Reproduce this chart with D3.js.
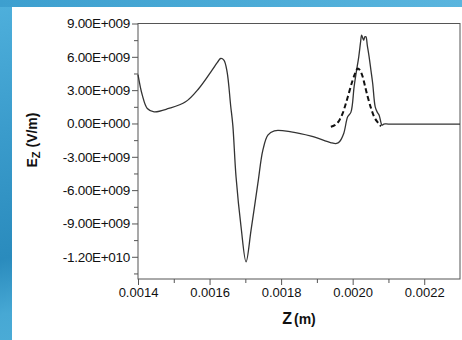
<!DOCTYPE html>
<html>
<head>
<meta charset="utf-8">
<script src="https://cdn.jsdelivr.net/npm/d3@7"></script>
<style>
  html, body { margin: 0; padding: 0; background: #fff; }
  svg { display: block; }
  text { font-family: "Liberation Sans", Arial, sans-serif; fill: #111; }
</style>
</head>
<body>
<div id="chart"></div>
<script>
// Axial electric field E_z along z: full field (solid) and pulse (dashed)
const solidZ = [0.001400, 0.001412, 0.001426, 0.001445, 0.001486, 0.001533, 0.001570, 0.001607, 0.001622, 0.001631, 0.001640, 0.001649, 0.001659, 0.001665, 0.001674, 0.001688, 0.001702, 0.001716, 0.001735, 0.001749, 0.001763, 0.001781, 0.001828, 0.001884, 0.001940, 0.001955, 0.001963, 0.001975, 0.001986, 0.001995, 0.002004, 0.002010, 0.002017, 0.002022, 0.002025, 0.002028, 0.002031, 0.002034, 0.002037, 0.002041, 0.002046, 0.002051, 0.002056, 0.002063, 0.002069, 0.002074, 0.002082, 0.002087, 0.002100, 0.002200, 0.002300];
const solidE = [4.4e9, 2.55e9, 1.35e9, 1.05e9, 1.35e9, 1.95e9, 3.15e9, 4.8e9, 5.5e9, 5.85e9, 5.7e9, 4.65e9, 1.6e9, -0.15e9, -4.8e9, -9.3e9, -12.45e9, -9.6e9, -5.4e9, -2.4e9, -1.05e9, -0.66e9, -0.75e9, -1.14e9, -1.74e9, -1.8e9, -1.65e9, -0.9e9, 0.6e9, 1.0e9, 3.3e9, 4.6e9, 6.0e9, 7.3e9, 7.95e9, 7.7e9, 7.5e9, 7.8e9, 7.8e9, 7.0e9, 6.0e9, 4.8e9, 3.6e9, 1.5e9, 1.0e9, 0.75e9, -0.15e9, -0.05e9, -0.05e9, -0.05e9, -0.05e9];

const dashZ = [0.001939, 0.001950, 0.001963, 0.001972, 0.001981, 0.001990, 0.002000, 0.002008, 0.002014, 0.002020, 0.002028, 0.002035, 0.002042, 0.002051, 0.002060, 0.002070, 0.002079];
const dashE = [-0.3e9, -0.15e9, 0.3e9, 0.9e9, 1.8e9, 2.8e9, 3.9e9, 4.6e9, 4.95e9, 4.8e9, 4.2e9, 3.3e9, 2.4e9, 1.4e9, 0.6e9, 0.1e9, -0.25e9];

const yTicks = [9e9, 6e9, 3e9, 0, -3e9, -6e9, -9e9, -12e9];
const yTickLabels = ["9.00E+009", "6.00E+009", "3.00E+009", "0.00E+000", "-3.00E+009", "-6.00E+009", "-9.00E+009", "-1.20E+010"];
const xTicks = [0.0014, 0.0016, 0.0018, 0.0020, 0.0022];
const xTickLabels = ["0.0014", "0.0016", "0.0018", "0.0020", "0.0022"];

const W = 462, H = 340;
const svg = d3.select("#chart").append("svg").attr("width", W).attr("height", H);

// blue backdrop framing the white panel
const defs = svg.append("defs");
const g1 = defs.append("linearGradient").attr("id", "bgGrad")
  .attr("x1", 0).attr("y1", 0).attr("x2", 0.3).attr("y2", 1);
g1.append("stop").attr("offset", "0%").attr("stop-color", "#4fb0dc");
g1.append("stop").attr("offset", "35%").attr("stop-color", "#3b9ccc");
g1.append("stop").attr("offset", "70%").attr("stop-color", "#2a8bbd");
g1.append("stop").attr("offset", "85%").attr("stop-color", "#47a8d4");
g1.append("stop").attr("offset", "100%").attr("stop-color", "#4eaed8");
const g2 = defs.append("linearGradient").attr("id", "topGrad")
  .attr("x1", 0).attr("y1", 0).attr("x2", 1).attr("y2", 0);
g2.append("stop").attr("offset", "0%").attr("stop-color", "#3d9fcf");
g2.append("stop").attr("offset", "50%").attr("stop-color", "#4aaad6");
g2.append("stop").attr("offset", "100%").attr("stop-color", "#5ab5de");
svg.append("rect").attr("width", W).attr("height", H).attr("fill", "url(#bgGrad)");
svg.append("rect").attr("width", W).attr("height", 7).attr("fill", "url(#topGrad)");
svg.append("rect").attr("x", 12).attr("y", 7).attr("width", W - 12).attr("height", H - 7).attr("fill", "#fff");

const m = { left: 138, top: 23.5, right: 460, bottom: 279 };
const x = d3.scaleLinear().domain([0.0014, 0.0023]).range([m.left, m.right]);
const y = d3.scaleLinear().domain([-1.4e10, 9e9]).range([m.bottom, m.top]);

const axisColor = "#555";

// frame
svg.append("rect").attr("x", m.left).attr("y", m.top)
  .attr("width", m.right - m.left).attr("height", m.bottom - m.top)
  .attr("fill", "none").attr("stroke", axisColor).attr("stroke-width", 1);

// minor ticks
const xMinor = d3.range(15, 23, 2).map(d => d / 10000);
const yMinor = d3.range(-13.5e9, 9e9, 3e9);
const xMinorAxis = d3.axisBottom(x).tickValues(xMinor).tickSize(4).tickFormat("");
const yMinorAxis = d3.axisLeft(y).tickValues(yMinor).tickSize(4).tickFormat("");
svg.append("g").attr("transform", `translate(0,${m.bottom})`).call(xMinorAxis)
  .call(g => g.select(".domain").remove())
  .call(g => g.selectAll("line").attr("stroke", axisColor));
svg.append("g").attr("transform", `translate(${m.left},0)`).call(yMinorAxis)
  .call(g => g.select(".domain").remove())
  .call(g => g.selectAll("line").attr("stroke", axisColor));

// major ticks with labels
const xAxis = d3.axisBottom(x).tickValues(xTicks).tickSize(6).tickPadding(3)
  .tickFormat((d, i) => xTickLabels[i]);
const yAxis = d3.axisLeft(y).tickValues(yTicks).tickSize(6).tickPadding(2)
  .tickFormat((d, i) => yTickLabels[i]);
svg.append("g").attr("transform", `translate(0,${m.bottom})`).call(xAxis)
  .call(g => g.select(".domain").remove())
  .call(g => g.selectAll("line").attr("stroke", axisColor))
  .call(g => g.selectAll("text").attr("font-size", 13).attr("font-family", "Liberation Sans, Arial, sans-serif").attr("fill", "#111"));
svg.append("g").attr("transform", `translate(${m.left},0)`).call(yAxis)
  .call(g => g.select(".domain").remove())
  .call(g => g.selectAll("line").attr("stroke", axisColor))
  .call(g => g.selectAll("text").attr("font-size", 13.5).attr("letter-spacing", -0.3).attr("font-family", "Liberation Sans, Arial, sans-serif").attr("fill", "#111"));

// curves
const plot = svg.append("g");
const smooth = d3.line().x(d => x(d[0])).y(d => y(d[1])).curve(d3.curveCatmullRom.alpha(0.5));
const line = d3.line().x(d => x(d[0])).y(d => y(d[1])).curve(d3.curveMonotoneX);
plot.append("path").datum(solidZ.map((z, i) => [z, solidE[i]]))
  .attr("d", smooth).attr("fill", "none").attr("stroke", "#333").attr("stroke-width", 1.3);
plot.append("path").datum(dashZ.map((z, i) => [z, dashE[i]]))
  .attr("d", line).attr("fill", "none").attr("stroke", "#111").attr("stroke-width", 2)
  .attr("stroke-dasharray", "5,3");

// axis titles
const xt = svg.append("text").attr("x", 299).attr("y", 324).attr("text-anchor", "middle")
  .attr("font-weight", "bold");
xt.append("tspan").attr("font-size", 16).text("Z");
xt.append("tspan").attr("font-size", 14).attr("dx", 2).text("(m)");

const yt = svg.append("text").attr("transform", "translate(37,140) rotate(-90)")
  .attr("text-anchor", "middle").attr("font-weight", "bold").attr("font-size", 14);
yt.append("tspan").text("E");
yt.append("tspan").attr("font-size", 11).attr("dy", 3).text("Z");
yt.append("tspan").attr("dy", -3).text(" (V/m)");
</script>
</body>
</html>
